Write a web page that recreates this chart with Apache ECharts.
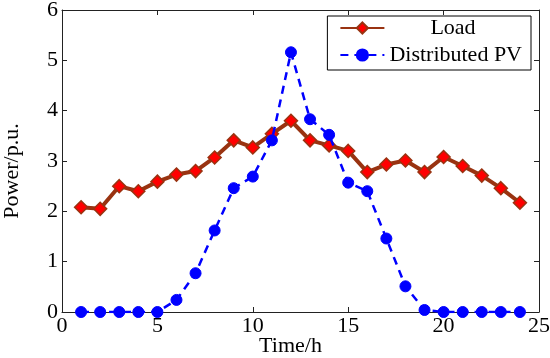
<!DOCTYPE html>
<html>
<head>
<meta charset="utf-8">
<script src="https://cdn.jsdelivr.net/npm/echarts@6/dist/echarts.min.js"></script>
<style>
html,body{margin:0;padding:0;background:#fff;}
#chart{width:550px;height:358px;}
</style>
</head>
<body>
<div id="chart"></div>
<script>
var hours = [1,2,3,4,5,6,7,8,9,10,11,12,13,14,15,16,17,18,19,20,21,22,23,24];
var loadValues = [2.08,2.05,2.50,2.40,2.59,2.73,2.80,3.07,3.41,3.27,3.54,3.80,3.41,3.31,3.20,2.78,2.93,3.01,2.78,3.08,2.90,2.71,2.46,2.17];
var pvValues = [0,0,0,0,0,0.24,0.77,1.62,2.46,2.69,3.41,5.16,3.83,3.52,2.57,2.40,1.46,0.51,0.04,0,0,0,0,0];
var xTicks = [0,5,10,15,20,25];
var yTicks = [0,1,2,3,4,5,6];
var seriesNames = ['Load','Distributed PV'];

var FONT = '"Liberation Serif","Times New Roman",serif';
var FS = 22;
function pairs(vals){ return hours.map(function(h,i){ return [h, vals[i]]; }); }

var chart = echarts.init(document.getElementById('chart'), null, {renderer:'canvas'});
var axisLine = {show:true, onZero:false, lineStyle:{color:'#222', width:1}};
var tick = {show:true, inside:true, length:5, lineStyle:{color:'#222'}};
chart.setOption({
  animation:false,
  backgroundColor:'#fff',
  grid:{left:62, right:11, top:10, bottom:46, containLabel:false, outerBoundsMode:'none'},
  legend:{
    data:[{name:seriesNames[0]},{name:seriesNames[1]}],
    right:19, top:16, orient:'vertical', align:'left',
    itemWidth:44, itemHeight:14, itemGap:5,
    padding:[1,9,4,12],
    borderColor:'#000', borderWidth:1, backgroundColor:'#fff',
    formatter:function(n){ return n === seriesNames[0] ? '{ind|' + n + '}' : n; },
    textStyle:{fontFamily:FONT, fontSize:FS, color:'#000',
      rich:{ind:{fontFamily:FONT, fontSize:FS, color:'#000', padding:[0,0,0,41]}}}
  },
  xAxis:[{
    type:'value', min:0, max:25, interval:5, position:'bottom',
    name:'Time/h', nameLocation:'middle', nameGap:23, nameMoveOverlap:false,
    nameTextStyle:{fontFamily:FONT, fontSize:FS, color:'#000', padding:[0,20,0,0]},
    axisLine:axisLine, splitLine:{show:false}, axisTick:tick,
    axisLabel:{fontFamily:FONT, fontSize:FS, color:'#000', margin:3}
  },{
    type:'value', min:0, max:25, interval:5, position:'top',
    axisLine:axisLine, splitLine:{show:false}, axisTick:tick,
    axisLabel:{show:false}
  }],
  yAxis:[{
    type:'value', min:0, max:6, interval:1, position:'left',
    name:'Power/p.u.', nameLocation:'middle', nameGap:39, nameRotate:90, nameMoveOverlap:false,
    nameTextStyle:{fontFamily:FONT, fontSize:FS, color:'#000', padding:[0,20,0,0]},
    axisLine:axisLine, splitLine:{show:false}, axisTick:tick,
    axisLabel:{fontFamily:FONT, fontSize:FS, color:'#000', margin:4}
  },{
    type:'value', min:0, max:6, interval:1, position:'right',
    axisLine:axisLine, splitLine:{show:false}, axisTick:tick,
    axisLabel:{show:false}
  }],
  series:[{
    name:seriesNames[0], type:'line', data:pairs(loadValues),
    symbol:'diamond', symbolSize:13,
    lineStyle:{color:'#993311', width:4},
    itemStyle:{color:'#ff0000', borderColor:'#993311', borderWidth:1.5},
    z:3
  },{
    name:seriesNames[1], type:'line', data:pairs(pvValues),
    symbol:'circle', symbolSize:11,
    lineStyle:{color:'#0000ff', width:2.5, type:[8,6]},
    itemStyle:{color:'#0000ff', borderColor:'#0000ff', borderWidth:1},
    z:4
  }]
});
</script>
</body>
</html>
